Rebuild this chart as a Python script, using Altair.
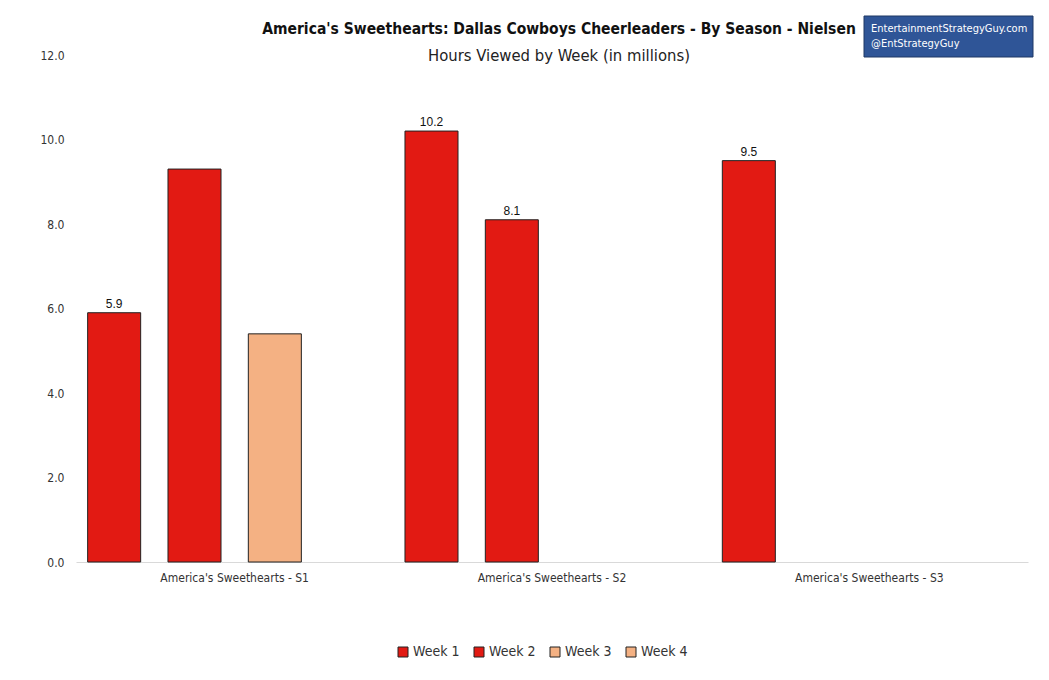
import altair as alt
import pandas as pd

seasons = ["America's Sweethearts - S1", "America's Sweethearts - S1", "America's Sweethearts - S1",
           "America's Sweethearts - S2", "America's Sweethearts - S2",
           "America's Sweethearts - S3"]
weeks = ["Week 1", "Week 2", "Week 3", "Week 1", "Week 2", "Week 1"]
hours = [5.9, 9.3, 5.4, 10.2, 8.1, 9.5]
labels = ["5.9", "", "", "10.2", "8.1", "9.5"]

season_order = ["America's Sweethearts - S1", "America's Sweethearts - S2", "America's Sweethearts - S3"]
week_order = ["Week 1", "Week 2", "Week 3", "Week 4"]
week_colors = ["#E21A13", "#E21A13", "#F4B183", "#F4B183"]

title_text = "America's Sweethearts: Dallas Cowboys Cheerleaders - By Season - Nielsen"
subtitle_text = "Hours Viewed by Week (in millions)"
brand_lines = ["EntertainmentStrategyGuy.com", "@EntStrategyGuy"]

df = pd.DataFrame({"season": seasons, "week": weeks, "hours": hours, "label": labels})

COND = "DejaVu Sans Condensed, Liberation Sans Narrow, sans-serif"

x_enc = alt.X("season:N", sort=season_order, title=None,
              scale=alt.Scale(paddingInner=0, paddingOuter=0),
              axis=alt.Axis(labelAngle=0, ticks=False, domainColor="#d9d9d9",
                            labelFont=COND, labelFontSize=12, labelColor="#333333",
                            labelPadding=10))
xoff = alt.XOffset("week:N", sort=week_order,
                   scale=alt.Scale(domain=week_order, paddingInner=0.34, paddingOuter=0.145))

bars = alt.Chart(df).mark_bar(stroke="#222222", strokeWidth=1).encode(
    x=x_enc,
    xOffset=xoff,
    y=alt.Y("hours:Q", title=None,
            scale=alt.Scale(domain=[0, 12]),
            axis=alt.Axis(values=[0, 2, 4, 6, 8, 10, 12], format=".1f", grid=False,
                          domain=False, ticks=False, labelFont=COND, labelFontSize=12,
                          labelColor="#333333", labelPadding=12)),
    color=alt.Color("week:N",
                    scale=alt.Scale(domain=week_order, range=week_colors),
                    legend=alt.Legend(title=None, orient="none", direction="horizontal",
                                      legendX=320, legendY=590, symbolType="square",
                                      symbolSize=100, symbolStrokeColor="#222222",
                                      symbolStrokeWidth=1, labelFont=COND,
                                      labelFontSize=14, labelColor="#333333",
                                      columnPadding=12, symbolOffset=0, labelOffset=3)),
)

text = alt.Chart(df).mark_text(dy=-9, fontSize=12, font="Liberation Sans, Arial",
                               color="#111111").encode(
    x=alt.X("season:N", sort=season_order),
    xOffset=xoff,
    y="hours:Q",
    text="label:N",
)

one = pd.DataFrame({"a": [0]})
title_mark = alt.Chart(one).mark_text(align="center", baseline="middle", font=COND,
                                      fontSize=15.5, fontWeight="bold", color="#111111").encode(
    x=alt.value(483), y=alt.value(-26), text=alt.value(title_text))
subtitle_mark = alt.Chart(one).mark_text(align="center", baseline="middle", font=COND,
                                         fontSize=16.5, color="#222222").encode(
    x=alt.value(483), y=alt.value(1), text=alt.value(subtitle_text))

box = alt.Chart(one).mark_rect(fill="#2F5597", stroke="#1F3864", strokeWidth=1).encode(
    x=alt.value(788), x2=alt.value(957), y=alt.value(-39), y2=alt.value(2)
)
box_t1 = alt.Chart(one).mark_text(align="left", baseline="middle", font=COND,
                                  fontSize=11, color="white").encode(
    x=alt.value(795), y=alt.value(-26), text=alt.value(brand_lines[0]))
box_t2 = alt.Chart(one).mark_text(align="left", baseline="middle", font=COND,
                                  fontSize=11, color="white").encode(
    x=alt.value(795), y=alt.value(-11), text=alt.value(brand_lines[1]))

chart = alt.layer(bars, text, title_mark, subtitle_mark, box, box_t1, box_t2).properties(
    width=952, height=507,
    autosize=alt.AutoSizeParams(type="none"),
    padding={"left": 68, "top": 47, "right": 13, "bottom": 110},
).configure_view(stroke=None)

chart.save("out.html", embed_options={"renderer": "svg", "actions": False})
